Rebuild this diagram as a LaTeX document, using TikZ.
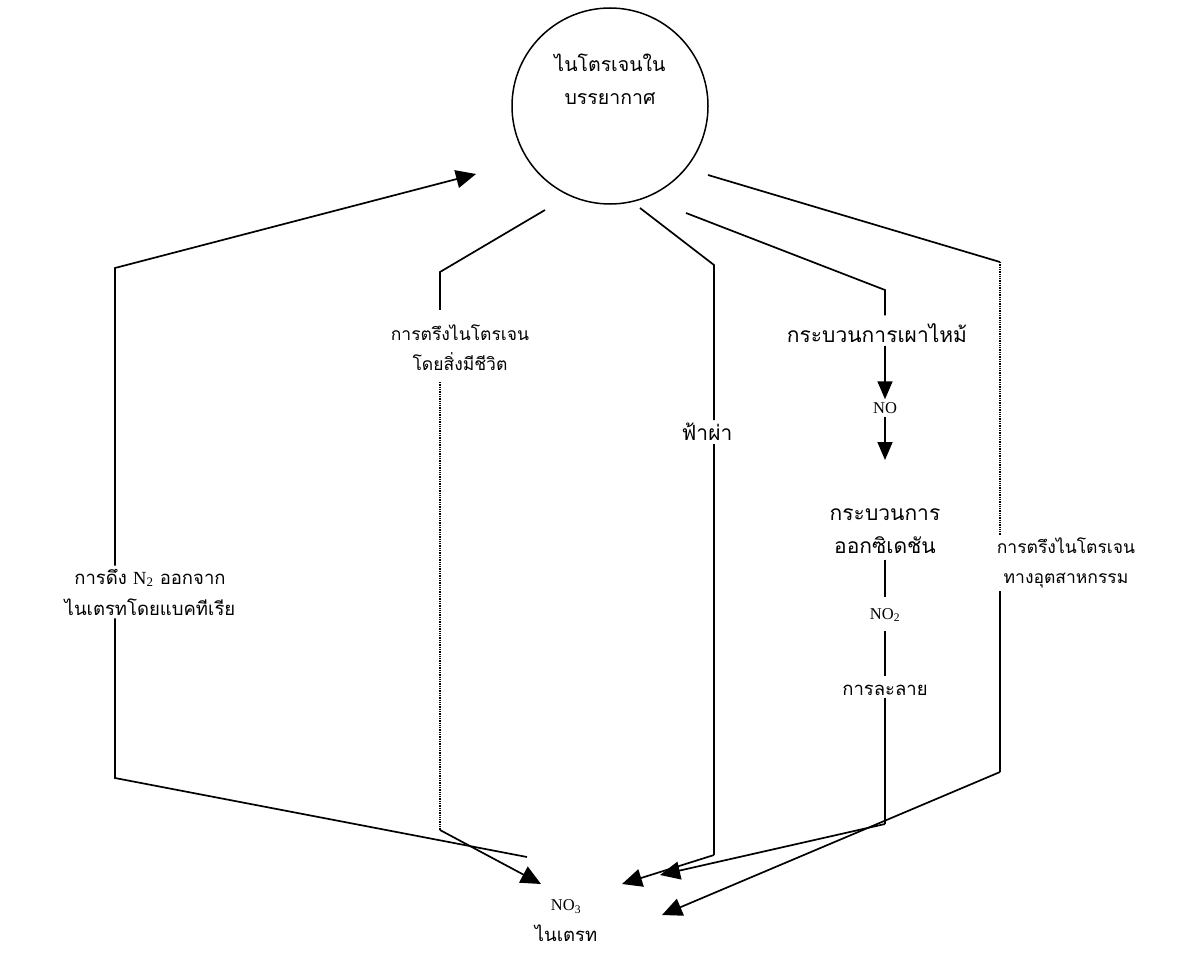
\documentclass[tikz,border=0pt]{standalone}
\usepackage{fontspec}
\setmainfont{Liberation Serif}
\newfontfamily\thai[Script=Thai]{Loma}
\usetikzlibrary{arrows.meta}
\begin{document}
\begin{tikzpicture}[x=1pt,y=-1pt,
  flow/.style={line width=1.7pt},
  dotline/.style={line width=1.3pt, densely dotted},
  tip/.style={-{Triangle[length=20pt,width=18pt]}},
  smalltip/.style={-{Triangle[length=18pt,width=15pt]}},
  lbl/.style={font=\thai\fontsize{18.5}{31}\selectfont, inner sep=3pt, align=center},
  biglbl/.style={lbl, font=\thai\fontsize{21}{33}\selectfont},
  chem/.style={font=\fontsize{16.5}{31}\selectfont, inner sep=3pt, align=center}]
\useasboundingbox (0,0) rectangle (1190,958);

% nitrogen pool in the air
\node[draw, circle, line width=1.5pt, minimum size=196pt] (atm) at (610,106) {};
\node[lbl, font=\thai\fontsize{19.5}{33}\selectfont] (atmtext) at (610,79) {ไนโตรเจนใน\\บรรยากาศ};

% process labels
\node[lbl] (denit) at (150,592) {การดึง {\normalfont N\textsubscript{2}} ออกจาก\\ไนเตรทโดยแบคทีเรีย};
\node[lbl, font=\thai\fontsize{17.5}{30}\selectfont] (bio) at (460,348) {การตรึงไนโตรเจน\\โดยสิ่งมีชีวิต};
\node[biglbl] (light) at (707,432) {ฟ้าผ่า};
\node[biglbl] (comb)  at (877,333) {กระบวนการเผาไหม้};
\node[chem] (no)   at (885,408) {NO};
\node[biglbl] (oxid)  at (885,531) {กระบวนการ\\ออกซิเดชัน};
\node[chem] (no2)  at (885,615) {NO\textsubscript{2}};
\node[lbl] (diss)  at (885,690) {การละลาย};
\node[lbl, font=\thai\fontsize{17.5}{30}\selectfont] (ind) at (1066,563) {การตรึงไนโตรเจน\\ทางอุตสาหกรรม};
\node[lbl] (nitrate) at (566,921) {{\normalfont\fontsize{16.5}{31}\selectfont NO\textsubscript{3}}\\ไนเตรท};

% bends and free ends of the connectors
\coordinate (s1) at (527,857);
\coordinate (c1) at (115,778);
\coordinate (c2) at (115,268);
\coordinate (t1) at (476,174);

\coordinate (b0) at (545,210);
\coordinate (b1) at (440,272);
\coordinate (b2) at (440,830);
\coordinate (t2) at (541,884);

\coordinate (l0) at (640,208);
\coordinate (l1) at (714,265);
\coordinate (l2) at (714,855);
\coordinate (t3) at (622,884);

\coordinate (k0) at (686,213);
\coordinate (k1) at (885,290);
\coordinate (k2) at (885,460);
\coordinate (k3) at (885,824);
\coordinate (t4) at (660,875);

\coordinate (i0) at (708,175);
\coordinate (i1) at (1000,262);
\coordinate (i2) at (1000,772);
\coordinate (t5) at (662,915);

% denitrification back to the air
\draw[flow] (s1) -- (c1) -- (c1 |- denit.south);
\draw[flow,tip] (c1 |- denit.north) -- (c2) -- (t1);

% biological fixation
\draw[flow] (b0) -- (b1) -- ([yshift=12pt]b1 |- bio.north);
\draw[dotline] ([yshift=-8pt]b1 |- bio.south) -- (b2);
\draw[flow,tip] (b2) -- (t2);

% lightning
\draw[flow] (l0) -- (l1) -- (l1 |- light.north);
\draw[flow] (l1 |- light.south) -- (l2);
\draw[flow,tip] (l2) -- (t3);

% combustion chain
\draw[flow] (k0) -- (k1) -- ([yshift=5pt]k1 |- comb.north);
\draw[flow,smalltip] (no |- comb.south) -- (no.north);
\draw[flow,smalltip] (no.south) -- (k2);
\draw[flow,shorten <=3pt,shorten >=8pt] (oxid.south) -- (no2.north);
\draw[flow,shorten <=6pt,shorten >=6pt] (no2.south) -- (diss.north);
\draw[flow] (diss.south) -- (k3);
\draw[flow,tip] (k3) -- (t4);

% industrial fixation
\draw[flow] (i0) -- (i1);
\draw[dotline] (i1) -- (i1 |- ind.north);
\draw[flow] (i1 |- ind.south) -- (i2);
\draw[flow,tip] (i2) -- (t5);
\end{tikzpicture}
\end{document}
